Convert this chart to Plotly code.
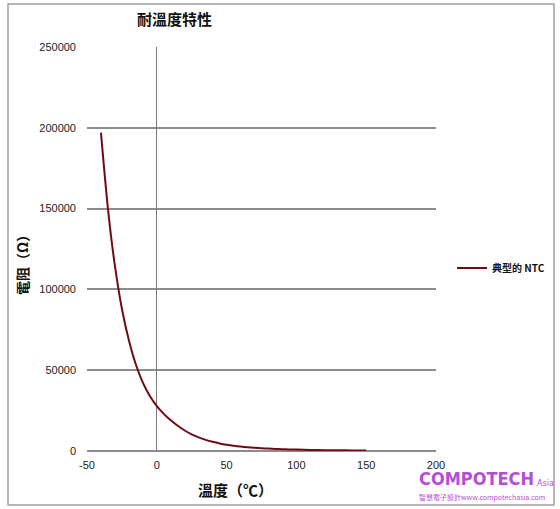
import plotly.graph_objects as go

# NTC resistance (temperature in degC, resistance in ohm)
temperature = [-40, -35, -30, -25, -20, -15, -10, -5, 0, 5, 10, 15, 20, 25,
               30, 35, 40, 45, 50, 55, 60, 65, 70, 75, 80, 85, 90, 95, 100,
               110, 120, 130, 140, 150]
resistance = [197000, 150000, 114500, 88000, 68500, 53500, 42300, 34000, 27800,
              23000, 19000, 15600, 12700, 10300, 8400, 6900, 5700, 4700, 3900,
              3250, 2750, 2350, 2000, 1720, 1480, 1280, 1120, 980, 860,
              680, 540, 440, 360, 300]

series_name = "典型的 NTC"
chart_title = "耐溫度特性"
x_title = "溫度（℃）"
y_title = "電阻（Ω）"

x_ticks = [-50, 0, 50, 100, 150, 200]
x_tick_labels = ["-50", "0", "50", "100", "150", "200"]
y_ticks = [0, 50000, 100000, 150000, 200000, 250000]
y_tick_labels = ["0", "50000", "100000", "150000", "200000", "250000"]

W, H = 560, 509
L, R, T, B = 87, 124, 47, 58
pw, ph = W - L - R, H - T - B


def px_x(px):
    return (px - L) / pw


def px_y(py):
    return (H - B - py) / ph


CJK = "Noto Sans CJK TC, sans-serif"
LAT = "Liberation Sans, Arial, sans-serif"
grid_col = "#8c8c8c"
purple = "#b44fd4"

fig = go.Figure()

fig.add_trace(
    go.Scatter(
        x=temperature,
        y=resistance,
        mode="lines",
        name=series_name,
        line=dict(color="#6e0c16", width=2, shape="spline", smoothing=0.8),
    )
)

fig.update_layout(
    width=W,
    height=H,
    margin=dict(l=L, r=R, t=T, b=B, autoexpand=False),
    paper_bgcolor="white",
    plot_bgcolor="white",
    showlegend=True,
    legend=dict(
        x=px_x(452),
        y=px_y(268),
        xanchor="left",
        yanchor="middle",
        font=dict(family=CJK, size=10, color="#111111", weight="bold"),
        itemwidth=30,
        bgcolor="rgba(0,0,0,0)",
    ),
    xaxis=dict(
        range=[-50, 200],
        tickvals=x_ticks,
        ticktext=x_tick_labels,
        showgrid=False,
        zeroline=True,
        zerolinecolor="#7a7a7a",
        zerolinewidth=1,
        showline=False,
        ticks="",
        ticklabelstandoff=6,
        tickfont=dict(family=LAT, size=11, color="#222222"),
    ),
    yaxis=dict(
        range=[0, 250000],
        tickvals=y_ticks,
        ticktext=y_tick_labels,
        showgrid=True,
        gridcolor=grid_col,
        gridwidth=1.5,
        zeroline=True,
        zerolinecolor=grid_col,
        zerolinewidth=1.5,
        showline=False,
        ticks="",
        ticklabelstandoff=10,
        tickfont=dict(family=LAT, size=11, color="#222222"),
    ),
)

# outer chart border
fig.add_shape(
    type="rect",
    xref="paper", yref="paper",
    x0=px_x(8), x1=px_x(554), y0=px_y(505), y1=px_y(4),
    line=dict(color="#a0a0a0", width=1.5),
    layer="below",
)

annotations = [
    dict(text=chart_title, x=px_x(174), y=px_y(19),
         font=dict(family=CJK, size=15, color="#111111", weight="bold")),
    dict(text=x_title, x=px_x(235), y=px_y(489),
         font=dict(family=CJK, size=15, color="#111111", weight="bold")),
    dict(text=y_title, x=px_x(22), y=px_y(262), textangle=-90,
         font=dict(family=CJK, size=14, color="#111111", weight="bold")),
    dict(text="COMPOTECH", x=px_x(417), y=px_y(478), xanchor="left",
         font=dict(family="DejaVu Sans Condensed, sans-serif", size=18,
                   color=purple, weight="bold")),
    dict(text="Asia", x=px_x(535), y=px_y(483), xanchor="left",
         font=dict(family="DejaVu Sans Condensed, sans-serif", size=9,
                   color=purple)),
    dict(text="智慧電子設計www.compotechasia.com", x=px_x(417), y=px_y(497),
         xanchor="left",
         font=dict(family=CJK, size=7, color=purple)),
]
for a in annotations:
    a.setdefault("xanchor", "center")
    fig.add_annotation(xref="paper", yref="paper", showarrow=False,
                       yanchor="middle", **a)

# drop the browser's default 8px body margin so the figure sits at 0,0
fig.write_html(
    "out.html",
    config={"displayModeBar": False},
    post_script="document.body.style.margin='0';",
)
